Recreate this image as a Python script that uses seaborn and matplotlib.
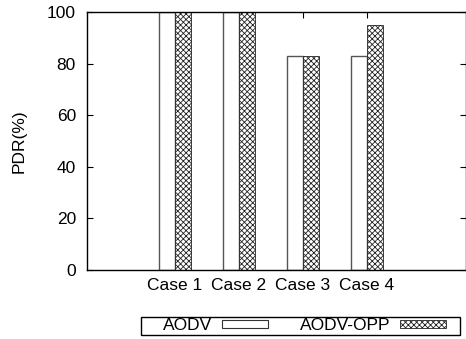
import matplotlib
matplotlib.use("Agg")
import matplotlib.pyplot as plt
from matplotlib.patches import Patch, Rectangle
import seaborn as sns
import pandas as pd

cases = ["Case 1", "Case 2", "Case 3", "Case 4"]
aodv = [100, 100, 83, 83]
aodv_opp = [100, 100, 83, 95]
series_names = ["AODV", "AODV-OPP"]
yticks = [0, 20, 40, 60, 80, 100]

df = pd.DataFrame({
    "case": cases * 2,
    "pdr": aodv + aodv_opp,
    "proto": [series_names[0]] * len(cases) + [series_names[1]] * len(cases),
})

sns.set_theme(style="white")
plt.rcParams["font.family"] = ["Liberation Sans", "DejaVu Sans"]
plt.rcParams["hatch.linewidth"] = 0.6
plt.rcParams["text.color"] = "black"
plt.rcParams["xtick.color"] = "black"
plt.rcParams["ytick.color"] = "black"
plt.rcParams["axes.labelcolor"] = "black"

FS = 12.5
W, H = 466, 339

fig = plt.figure(figsize=(W / 100, H / 100), dpi=100)
ax = fig.add_axes([87 / W, 1 - 270 / H, 378.5 / W, 258 / H])

sns.barplot(data=df, x="case", y="pdr", hue="proto", palette=["white", "white"],
            width=0.5, gap=0, edgecolor="#555555", linewidth=1.0, ax=ax,
            legend=False, saturation=1)
for p in ax.containers[1]:
    p.set_hatch("xxxxxx")
    p.set_edgecolor("#222222")
    p.set_linewidth(0.6)

ax.set_xlim(-1.38, 4.55)
ax.set_ylim(0, 100)
ax.set_yticks(yticks)
ax.set_xlabel("")
ax.set_ylabel("PDR(%)", fontsize=FS)
ax.yaxis.set_label_coords((27 - 87) / 378.5, 0.5)
for s in ax.spines.values():
    s.set_visible(True)
    s.set_color("black")
    s.set_linewidth(1.0)
ax.tick_params(axis="both", direction="in", length=4, width=0.8, color="black",
               labelsize=FS, labelcolor="black", top=True, right=True, bottom=True, left=True)
ax.tick_params(axis="y", pad=8)
ax.tick_params(axis="x", pad=6)

handles = [
    Patch(facecolor="white", edgecolor="#333333", linewidth=0.8, label=series_names[0]),
    Patch(facecolor="white", edgecolor="#222222", hatch="xxxxxx", linewidth=0.6, label=series_names[1]),
]
fig.legend(handles=handles, loc="center left", ncol=2, markerfirst=False,
           bbox_to_anchor=(163 / W, 1 - 326 / H), fontsize=FS, frameon=False,
           handlelength=2.64, handleheight=0.35, borderpad=0, borderaxespad=0,
           handletextpad=0.57, columnspacing=1.84)
fig.add_artist(Rectangle((141 / W, 1 - 335 / H), (460 - 141) / W, 18 / H,
                         transform=fig.transFigure, fill=False, edgecolor="black",
                         linewidth=1.0))

fig.savefig("out.png", dpi=100)
